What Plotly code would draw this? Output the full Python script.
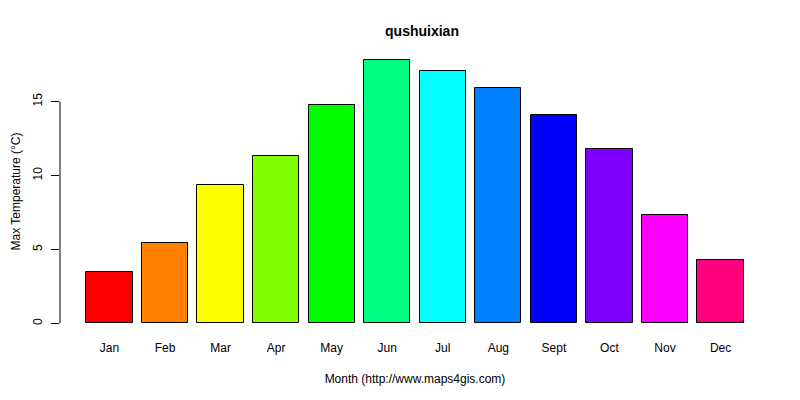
import plotly.graph_objects as go

months = ['Jan', 'Feb', 'Mar', 'Apr', 'May', 'Jun', 'Jul', 'Aug', 'Sept', 'Oct', 'Nov', 'Dec']
max_temp = [3.45, 5.43, 9.39, 11.35, 14.8, 17.84, 17.09, 15.95, 14.12, 11.82, 7.36, 4.32]
colors = ['#FF0000', '#FF8000', '#FFFF00', '#80FF00', '#00FF00', '#00FF80',
          '#00FFFF', '#0080FF', '#0000FF', '#8000FF', '#FF00FF', '#FF0080']
y_ticks = [0, 5, 10, 15]

# R barplot style positions: width 1, space 0.2
x_pos = [0.7 + 1.2 * i for i in range(len(months))]
x_lo, x_hi = 0.2, 0.2 + 1.2 * len(months) - 0.2
x_pad = 0.04 * (x_hi - x_lo)
y_hi = max(max_temp)
y_pad = 0.04 * y_hi

fig = go.Figure()
fig.add_trace(go.Bar(x=x_pos, y=max_temp, width=1,
                     marker=dict(color=colors, line=dict(color='black', width=1)),
                     showlegend=False))

# y axis line spanning only the tick range, like R's axis()
fig.add_shape(type='line', xref='paper', yref='y', x0=0, x1=0,
              y0=y_ticks[0], y1=y_ticks[-1], line=dict(color='black', width=1))

# y axis title as an annotation so it can sit further left
fig.add_annotation(text='Max Temperature (°C)', xref='paper', yref='paper',
                   x=0, y=0.5, xanchor='center', yanchor='middle', xshift=-45,
                   textangle=-90, showarrow=False, font=dict(size=12))

font = 'Liberation Sans, Arial, sans-serif'
# page body has an 8px margin, so margins are shifted by 8px
fig.update_layout(
    width=800, height=400,
    margin=dict(l=52, r=38, t=41, b=74, autoexpand=False),
    plot_bgcolor='white', paper_bgcolor='white',
    font=dict(family=font, size=12, color='black'),
    title=dict(text='<b>qushuixian</b>', x=0.5175, xanchor='center', y=0.942, yanchor='middle',
               font=dict(size=14)),
    bargap=0,
)
fig.update_xaxes(range=[x_lo - x_pad, x_hi + x_pad], tickvals=x_pos, ticktext=months,
                 showgrid=False, zeroline=False, showline=False, ticks='', ticklabelstandoff=5,
                 automargin=False,
                 title=dict(text='Month (http://www.maps4gis.com)', standoff=20,
                            font=dict(size=12)))
fig.update_yaxes(range=[-y_pad, y_hi + y_pad], tickvals=y_ticks, tickangle=-90,
                 showgrid=False, zeroline=False, showline=False,
                 ticks='outside', ticklen=8, tickcolor='black', ticklabelstandoff=4,
                 automargin=False)

fig.write_html("out.html")
